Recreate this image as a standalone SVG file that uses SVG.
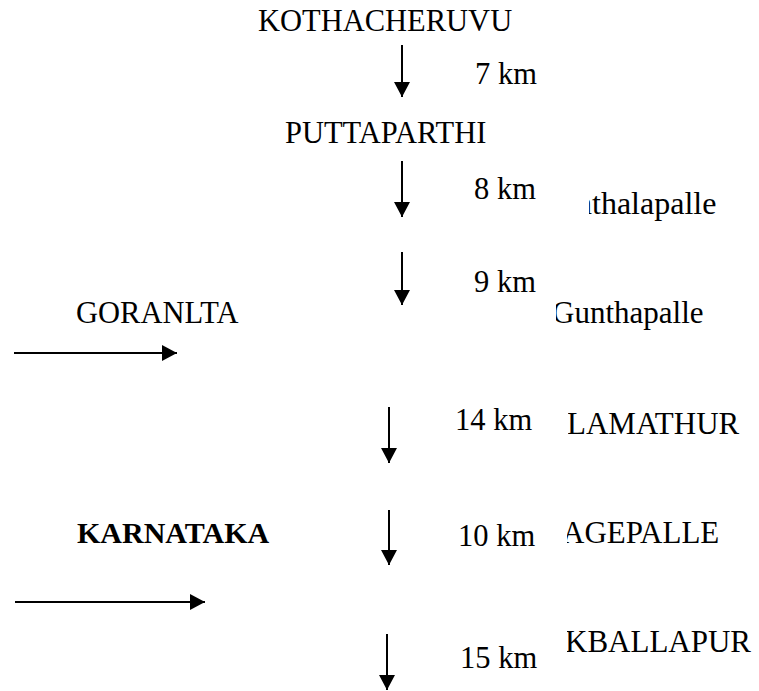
<svg xmlns="http://www.w3.org/2000/svg" width="759" height="691" viewBox="0 0 759 691">
  <style>
    text { font-family: "Liberation Serif", "Times New Roman", serif; font-size: 30.5px; fill: #000; }
    .place { font-size: 31px; }
    .bold { font-weight: bold; font-size: 30px; }
    .conn { stroke: #000; stroke-width: 2; fill: none; }
  </style>
  <defs>
    <marker id="head" markerUnits="userSpaceOnUse" markerWidth="16" markerHeight="17" viewBox="0 0 16 17" refX="15" refY="8.5" orient="auto">
      <path d="M0,0.5 L15,8.5 L0,16.5 Z" fill="#000"/>
    </marker>
    <!-- the right-hand place names are cut off on their left side -->
    <clipPath id="clipA"><rect x="589" y="180" width="170" height="50"/></clipPath>
    <clipPath id="clipB"><rect x="556" y="290" width="203" height="50"/></clipPath>
    <clipPath id="clipC"><rect x="568" y="400" width="191" height="50"/></clipPath>
    <clipPath id="clipD"><rect x="567" y="510" width="192" height="50"/></clipPath>
    <clipPath id="clipE"><rect x="567" y="620" width="192" height="50"/></clipPath>
  </defs>

  <g id="kothacheruvu"><text x="258" y="31">KOTHACHERUVU</text></g>
  <g id="puttaparthi"><text x="285" y="143">PUTTAPARTHI</text></g>
  <g id="gunthalapalle"><text class="place" x="576" y="214" style="font-size:32px" clip-path="url(#clipA)">nthalapalle</text></g>
  <g id="gunthapalle"><text class="place" x="552" y="323" clip-path="url(#clipB)">Gunthapalle</text></g>
  <g id="goranlta"><text x="76" y="323">GORANLTA</text></g>
  <g id="lamathur"><text class="place" x="567" y="434" clip-path="url(#clipC)">LAMATHUR</text></g>
  <g id="karnataka"><text class="bold" x="77" y="543">KARNATAKA</text></g>
  <g id="agepalle"><text class="place" x="562" y="543" clip-path="url(#clipD)">AGEPALLE</text></g>
  <g id="kballapur"><text class="place" x="565" y="652" clip-path="url(#clipE)">KBALLAPUR</text></g>

  <g id="connectors">
    <line class="conn" x1="402" y1="45" x2="402" y2="97" marker-end="url(#head)"/>
    <line class="conn" x1="402" y1="161" x2="402" y2="217" marker-end="url(#head)"/>
    <line class="conn" x1="402" y1="252" x2="402" y2="305" marker-end="url(#head)"/>
    <line class="conn" x1="389" y1="407" x2="389" y2="463" marker-end="url(#head)"/>
    <line class="conn" x1="389" y1="510" x2="389" y2="565" marker-end="url(#head)"/>
    <line class="conn" x1="387" y1="634" x2="387" y2="690" marker-end="url(#head)"/>
    <line class="conn" x1="14" y1="353" x2="177" y2="353" marker-end="url(#head)"/>
    <line class="conn" x1="15" y1="602" x2="205" y2="602" marker-end="url(#head)"/>
  </g>

  <g id="distances">
    <text x="475" y="84">7 km</text>
    <text x="474" y="199">8 km</text>
    <text x="474" y="292">9 km</text>
    <text x="455" y="430">14 km</text>
    <text x="458" y="546">10 km</text>
    <text x="460" y="668">15 km</text>
  </g>
</svg>
